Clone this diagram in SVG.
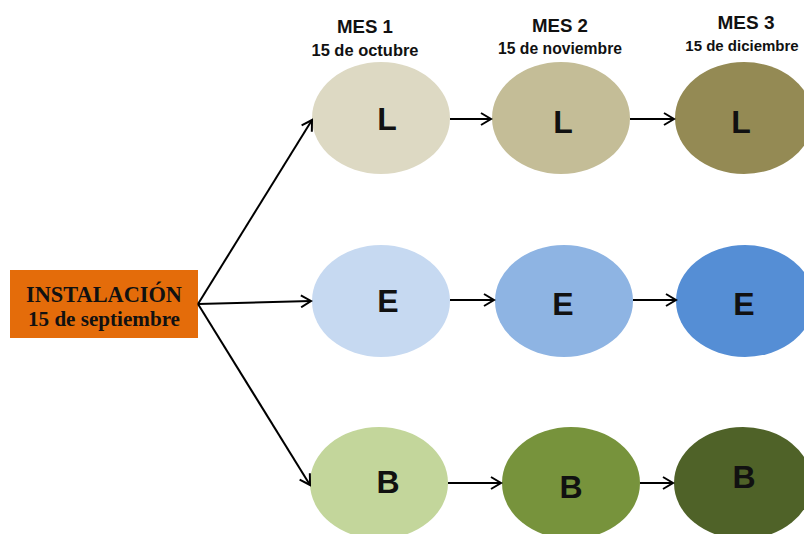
<svg xmlns="http://www.w3.org/2000/svg" width="804" height="534" viewBox="0 0 804 534">
<defs>
<marker id="ah" markerUnits="userSpaceOnUse" markerWidth="14" markerHeight="14" viewBox="0 0 14 14" refX="12" refY="7" orient="auto">
<path d="M2,1 L12,7 L2,13" fill="none" stroke="#000" stroke-width="2"/>
</marker>
<style>
.hd{font-family:"Liberation Sans",Arial,sans-serif;font-weight:bold;fill:#111;text-anchor:middle}
.lt{font-family:"Liberation Sans",Arial,sans-serif;font-weight:bold;font-size:32px;fill:#111;text-anchor:middle}
.sf{font-family:"Liberation Serif","Times New Roman",serif;font-weight:bold;fill:#111;text-anchor:middle}
.cn{stroke:#000;stroke-width:2;fill:none;marker-end:url(#ah)}
</style>
</defs>
<rect width="804" height="534" fill="#fff"/>
<g id="headers">
<text class="hd" x="365" y="33" font-size="19" textLength="56" lengthAdjust="spacingAndGlyphs">MES 1</text>
<text class="hd" x="365" y="56" font-size="17" textLength="107" lengthAdjust="spacingAndGlyphs">15 de octubre</text>
<text class="hd" x="560" y="32" font-size="19" textLength="56" lengthAdjust="spacingAndGlyphs">MES 2</text>
<text class="hd" x="560" y="54" font-size="17" textLength="124" lengthAdjust="spacingAndGlyphs">15 de noviembre</text>
<text class="hd" x="746" y="29" font-size="19" textLength="57" lengthAdjust="spacingAndGlyphs">MES 3</text>
<text class="hd" x="742" y="51" font-size="15">15 de diciembre</text>
</g>
<g id="instalacion">
<rect x="10" y="270" width="188" height="68" fill="#E46C0A"/>
<text class="sf" x="104" y="302" font-size="24" textLength="156" lengthAdjust="spacingAndGlyphs">INSTALACIÓN</text>
<text class="sf" x="104" y="326" font-size="21" textLength="152" lengthAdjust="spacingAndGlyphs">15 de septiembre</text>
</g>
<g id="L1"><ellipse cx="381" cy="118" rx="69" ry="56" fill="#DDD9C3"/><text class="lt" x="387" y="130">L</text></g>
<g id="L2"><ellipse cx="561" cy="118" rx="69" ry="56" fill="#C4BD97"/><text class="lt" x="563" y="133">L</text></g>
<g id="L3"><ellipse cx="744" cy="118" rx="69" ry="56" fill="#948A54"/><text class="lt" x="741" y="133">L</text></g>
<g id="E1"><ellipse cx="381" cy="301" rx="69" ry="56" fill="#C6D9F1"/><text class="lt" x="388" y="312">E</text></g>
<g id="E2"><ellipse cx="564" cy="301" rx="69" ry="56" fill="#8EB4E3"/><text class="lt" x="563" y="315">E</text></g>
<g id="E3"><ellipse cx="745" cy="301" rx="69" ry="56" fill="#558ED5"/><text class="lt" x="744" y="315">E</text></g>
<g id="B1"><ellipse cx="379" cy="483" rx="69" ry="56" fill="#C3D69B"/><text class="lt" x="388" y="493">B</text></g>
<g id="B2"><ellipse cx="571" cy="483" rx="69" ry="56" fill="#77933C"/><text class="lt" x="571" y="498">B</text></g>
<g id="B3"><ellipse cx="743" cy="483" rx="69" ry="56" fill="#4F6228"/><text class="lt" x="744" y="488">B</text></g>
<g id="connectors">
<path class="cn" d="M198,304 L312,120"/>
<path class="cn" d="M198,304 L311,301"/>
<path class="cn" d="M198,304 L310,485"/>
<path class="cn" d="M450,119 L491,119"/>
<path class="cn" d="M630,119 L674,119"/>
<path class="cn" d="M450,300 L494,300"/>
<path class="cn" d="M633,300 L676,300"/>
<path class="cn" d="M448,483 L501,483"/>
<path class="cn" d="M640,483 L673,483"/>
</g>
</svg>
